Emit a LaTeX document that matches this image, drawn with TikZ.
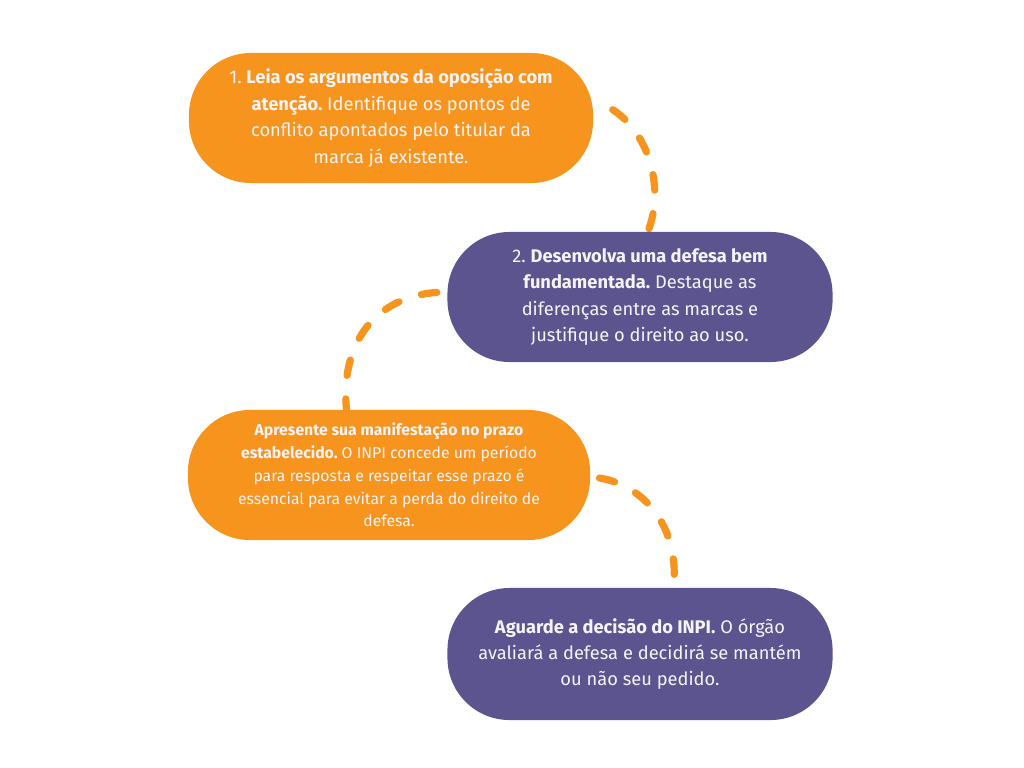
\documentclass[tikz,border=0pt]{standalone}
\usepackage{fontspec}
\setmainfont{Fira Sans}
\frenchspacing
\usetikzlibrary{calc}
\definecolor{passoLaranja}{HTML}{F7941D}
\definecolor{passoRoxo}{HTML}{5B548F}
\definecolor{passoTexto}{HTML}{F6F3F7}
\pgfdeclarelayer{papel}
\pgfdeclarelayer{trilha}
\pgfsetlayers{papel,trilha,main}
\tikzset{passo/.style = {rectangle, rounded corners=1.55cm, inner sep=0pt,
    align=center, text=passoTexto,
    font=\fontsize{13}{18.8}\selectfont},
  laranja/.style = {passo, fill=passoLaranja},
  roxo/.style = {passo, fill=passoRoxo},
  trilha/.style = {draw=passoLaranja, line width=0.18cm, line cap=round,
    dash pattern=on 0.39cm off 0.59cm}}

\begin{document}
\begin{tikzpicture}[x=0.025cm,y=-0.025cm]
  \begin{pgfonlayer}{papel}
    \fill[white] (0,0) rectangle (1024,768);
  \end{pgfonlayer}
  \useasboundingbox (0,0) rectangle (1024,768);
  \node[laranja, minimum width=10.1cm, minimum height=3.25cm] (b1) at (391,118)
  {1. \textbf{Leia os argumentos da oposição com}\\
    \textbf{atenção.} Identifique os pontos de\\
    conflito apontados pelo titular da\\
    marca já existente.};
  \node[roxo, minimum width=9.625cm, minimum height=3.25cm] (b2) at (640,297)
  {2. \textbf{Desenvolva uma defesa bem}\\
    \textbf{fundamentada.} Destaque as\\
    diferenças entre as marcas e\\
    justifique o direito ao uso.};
  \node[laranja, minimum width=10.05cm, minimum height=3.25cm,
    font=\fontsize{11.2}{16.2}\selectfont] (b3) at (389,475)
  {\textbf{Apresente sua manifestação no prazo}\\
    \textbf{estabelecido.} O INPI concede um período\\
    para resposta e respeitar esse prazo é\\
    essencial para evitar a perda do direito de\\
    defesa.};
  \node[roxo, minimum width=9.625cm, minimum height=3.3cm] (b4) at (640,654)
  {\textbf{Aguarde a decisão do INPI.} O órgão\\
    avaliará a defesa e decidirá se mantém\\
    ou não seu pedido.};
  % trilhas tracejadas
  \begin{pgfonlayer}{trilha}
    \draw[trilha, dash phase=0.39cm] ($(b1.east)+(-2,-18)$)
    .. controls ($(b1.east)+(52,-3)$) and ($(b2.north)+(28,-47)$)
    .. ($(b2.north)+(7,2)$);
    \draw[trilha, dash phase=0.72cm] ($(b2.west)+(0,-5)$)
    .. controls ($(b2.west)+(-68,-5)$) and ($(b3.north)+(-51,-70)$)
    .. ($(b3.north)+(-42,5)$);
    \draw[trilha, dash phase=0.75cm] ($(b3.east)+(0,2)$)
    .. controls ($(b3.east)+(50,5)$) and ($(b4.north)+(42,-63)$)
    .. ($(b4.north)+(33,4)$);
  \end{pgfonlayer}
\end{tikzpicture}
\end{document}
